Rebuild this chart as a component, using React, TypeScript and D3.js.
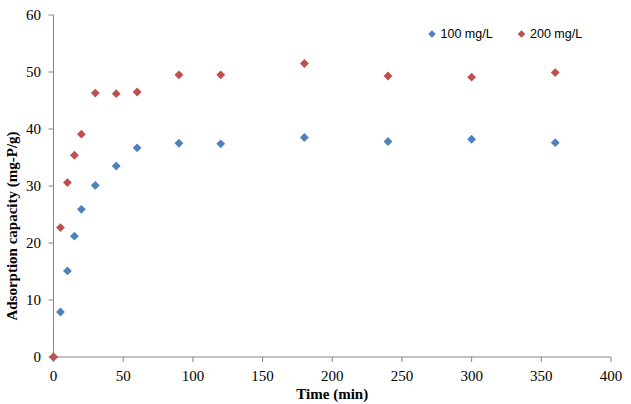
import React from "react";
import * as d3 from "d3";

const times = [0, 5, 10, 15, 20, 30, 45, 60, 90, 120, 180, 240, 300, 360];
const series100 = [0, 7.9, 15.1, 21.2, 25.9, 30.1, 33.5, 36.7, 37.5, 37.4, 38.5, 37.8, 38.2, 37.6];
const series200 = [0, 22.7, 30.6, 35.4, 39.1, 46.3, 46.2, 46.5, 49.5, 49.5, 51.5, 49.3, 49.1, 49.9];
const seriesNames = ["100 mg/L", "200 mg/L"];
const seriesColors = ["#4F81BD", "#C0504D"];
const xTicks = [0, 50, 100, 150, 200, 250, 300, 350, 400];
const yTicks = [0, 10, 20, 30, 40, 50, 60];

const W = 631;
const H = 404;

export default function App() {
  const x = d3.scaleLinear().domain([0, 400]).range([53.5, 611]);
  const y = d3.scaleLinear().domain([0, 60]).range([357, 15]);
  const diamond = d3.symbol().type(d3.symbolDiamond2).size(50)();
  const legendDiamond = d3.symbol().type(d3.symbolDiamond2).size(36)();
  const axisColor = "#868686";
  const serif = "'Liberation Serif', 'Times New Roman', serif";
  const sans = "'Liberation Sans', Arial, sans-serif";
  const all = [series100, series200];

  return (
    <svg width={W} height={H} style={{ position: "absolute", left: 0, top: 0, background: "#fff" }}>
      <rect x={0} y={0} width={W} height={H} fill="#fff" />
      {/* axes */}
      <line x1={x(0)} x2={x(0)} y1={y(60)} y2={y(0)} stroke={axisColor} strokeWidth={1} />
      <line x1={x(0)} x2={x(400)} y1={y(0)} y2={y(0)} stroke={axisColor} strokeWidth={1} />
      {yTicks.map((t) => (
        <g key={"y" + t}>
          <line x1={x(0) - 5} x2={x(0)} y1={y(t)} y2={y(t)} stroke={axisColor} />
          <text x={41} y={y(t)} dy="0.35em" textAnchor="end" fontFamily={serif} fontSize={15} fill="#000">
            {t}
          </text>
        </g>
      ))}
      {xTicks.map((t) => (
        <g key={"x" + t}>
          <line x1={x(t)} x2={x(t)} y1={y(0)} y2={y(0) + 5} stroke={axisColor} />
          <text x={x(t)} y={381} textAnchor="middle" fontFamily={serif} fontSize={15} fill="#000">
            {t}
          </text>
        </g>
      ))}
      <text x={x(200)} y={399} textAnchor="middle" fontFamily={serif} fontSize={15} fontWeight="bold" fill="#000">
        Time (min)
      </text>
      <text
        transform={`translate(17,226) rotate(-90)`}
        textAnchor="middle"
        fontFamily={serif}
        fontSize={15}
        fontWeight="bold"
        fill="#000"
      >
        Adsorption capacity (mg-P/g)
      </text>
      {/* points */}
      {all.map((s, si) => (
        <g key={"s" + si}>
          {s.map((v, i) => (
            <path key={i} d={diamond} transform={`translate(${x(times[i])},${y(v)})`} fill={seriesColors[si]} />
          ))}
        </g>
      ))}
      {/* legend */}
      {seriesNames.map((n, i) => {
        const lx = [432, 521.5][i];
        return (
          <g key={"l" + i}>
            <path d={legendDiamond} transform={`translate(${lx},34)`} fill={seriesColors[i]} />
            <text x={lx + 8.5} y={34} dy="0.35em" fontFamily={sans} fontSize={12.5} fill="#000">
              {n}
            </text>
          </g>
        );
      })}
    </svg>
  );
}
